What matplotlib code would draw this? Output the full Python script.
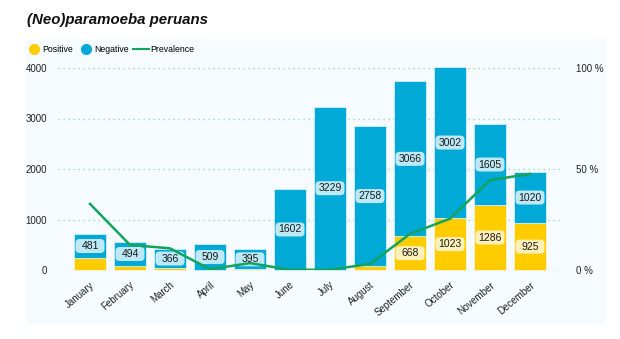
import matplotlib.pyplot as plt
import numpy as np
from matplotlib.lines import Line2D
from matplotlib.patches import Rectangle, FancyBboxPatch

plt.rcParams['font.family'] = ['Liberation Sans', 'DejaVu Sans']

months = ['January', 'February', 'March', 'April', 'May', 'June', 'July',
          'August', 'September', 'October', 'November', 'December']
negative = [481, 494, 366, 509, 395, 1602, 3229, 2758, 3066, 3002, 1605, 1020]
positive = [234, 70, 44, 2, 14, 1, 5, 85, 668, 1023, 1286, 925]
# only the larger positive segments carry a value label
show_pos_label = [False] * 8 + [True] * 4

yellow = '#ffcc00'
blue = '#00a9d6'
green = '#13a35d'

neg = np.array(negative)
pos = np.array(positive)
prevalence = pos / (pos + neg) * 100
x = np.arange(len(months))

fig = plt.figure(figsize=(6.2, 3.39), dpi=100)
fig.patch.set_facecolor('white')
fig.add_artist(Rectangle((26 / 620, 1 - 325 / 339), 580 / 620, 286 / 339,
                         transform=fig.transFigure, facecolor='#f5fbfe',
                         edgecolor='none', zorder=0))

ax = fig.add_axes([58 / 620, 1 - 270 / 339, 505 / 620, 202 / 339])
ax.set_facecolor('none')
ax.set_xlim(-0.8, 11.825)
ax.set_ylim(0, 4000)

bar_w = 0.78
ax.bar(x, pos, width=bar_w, color=yellow, edgecolor='white', linewidth=0.4,
       clip_on=False, zorder=2)
ax.bar(x, neg, width=bar_w, bottom=pos, color=blue, edgecolor='white',
       linewidth=0.4, clip_on=False, zorder=2)

# label boxes: fixed size in pixels, converted to data units
px_x = 1 / 40.0              # data x per pixel
px_y = 4000 / 202.0          # data y per pixel
box_w = 29 * px_x
box_h = 14 * px_y


def value_label(xc, yc, val, face):
    ax.add_patch(FancyBboxPatch((xc - box_w / 2, yc - box_h / 2), box_w, box_h,
                                boxstyle='round,pad=0,rounding_size=0.1',
                                mutation_aspect=px_y / px_x,
                                facecolor=face, edgecolor='none', zorder=3))
    ax.text(xc, yc, str(val), ha='center', va='center', fontsize=7.5,
            color='#1a1a1a', zorder=4)


for xi, p, n, show in zip(x, pos, neg, show_pos_label):
    value_label(xi, p + n / 2, n, '#bde8f6')
    if show:
        value_label(xi, p / 2, p, '#fdf0b8')

ax.set_yticks([0, 1000, 2000, 3000, 4000])
ax.set_xticks(x)
ax.set_xticklabels(months, rotation=40, ha='right', rotation_mode='anchor')
ax.tick_params(axis='both', length=0, labelsize=7, colors='#222222')
ax.tick_params(axis='y', pad=8)
ax.tick_params(axis='x', pad=7)
ax.grid(axis='y', linestyle=(0, (1, 3)), color='#8fd0c4', linewidth=0.9)
ax.set_axisbelow(True)
for s in ax.spines.values():
    s.set_visible(False)

ax2 = ax.twinx()
ax2.plot(x, prevalence, color=green, linewidth=1.8, zorder=5)
ax2.set_ylim(0, 100)
ax2.set_yticks([0, 50, 100])
ax2.set_yticklabels(['0 %', '50 %', '100 %'])
ax2.tick_params(axis='y', length=0, labelsize=7, colors='#222222', pad=9)
for s in ax2.spines.values():
    s.set_visible(False)

fig.text(27 / 620, 1 - 24 / 339, '(Neo)paramoeba peruans', fontsize=10.8,
         fontweight='bold', fontstyle='italic', color='#111111')

handles = [
    Line2D([], [], marker='o', linestyle='', color=yellow, markersize=7),
    Line2D([], [], marker='o', linestyle='', color=blue, markersize=7),
    Line2D([], [], color=green, linewidth=1.5),
]
fig.legend(handles, ['Positive', 'Negative', 'Prevalence'], ncol=3,
           loc='upper left', bbox_to_anchor=(26 / 620, 1 - 45 / 339),
           frameon=False, fontsize=6.3, handlelength=1.8, handletextpad=0.1,
           columnspacing=0.5, borderaxespad=0, borderpad=0)

fig.savefig('out.png', dpi=100)
